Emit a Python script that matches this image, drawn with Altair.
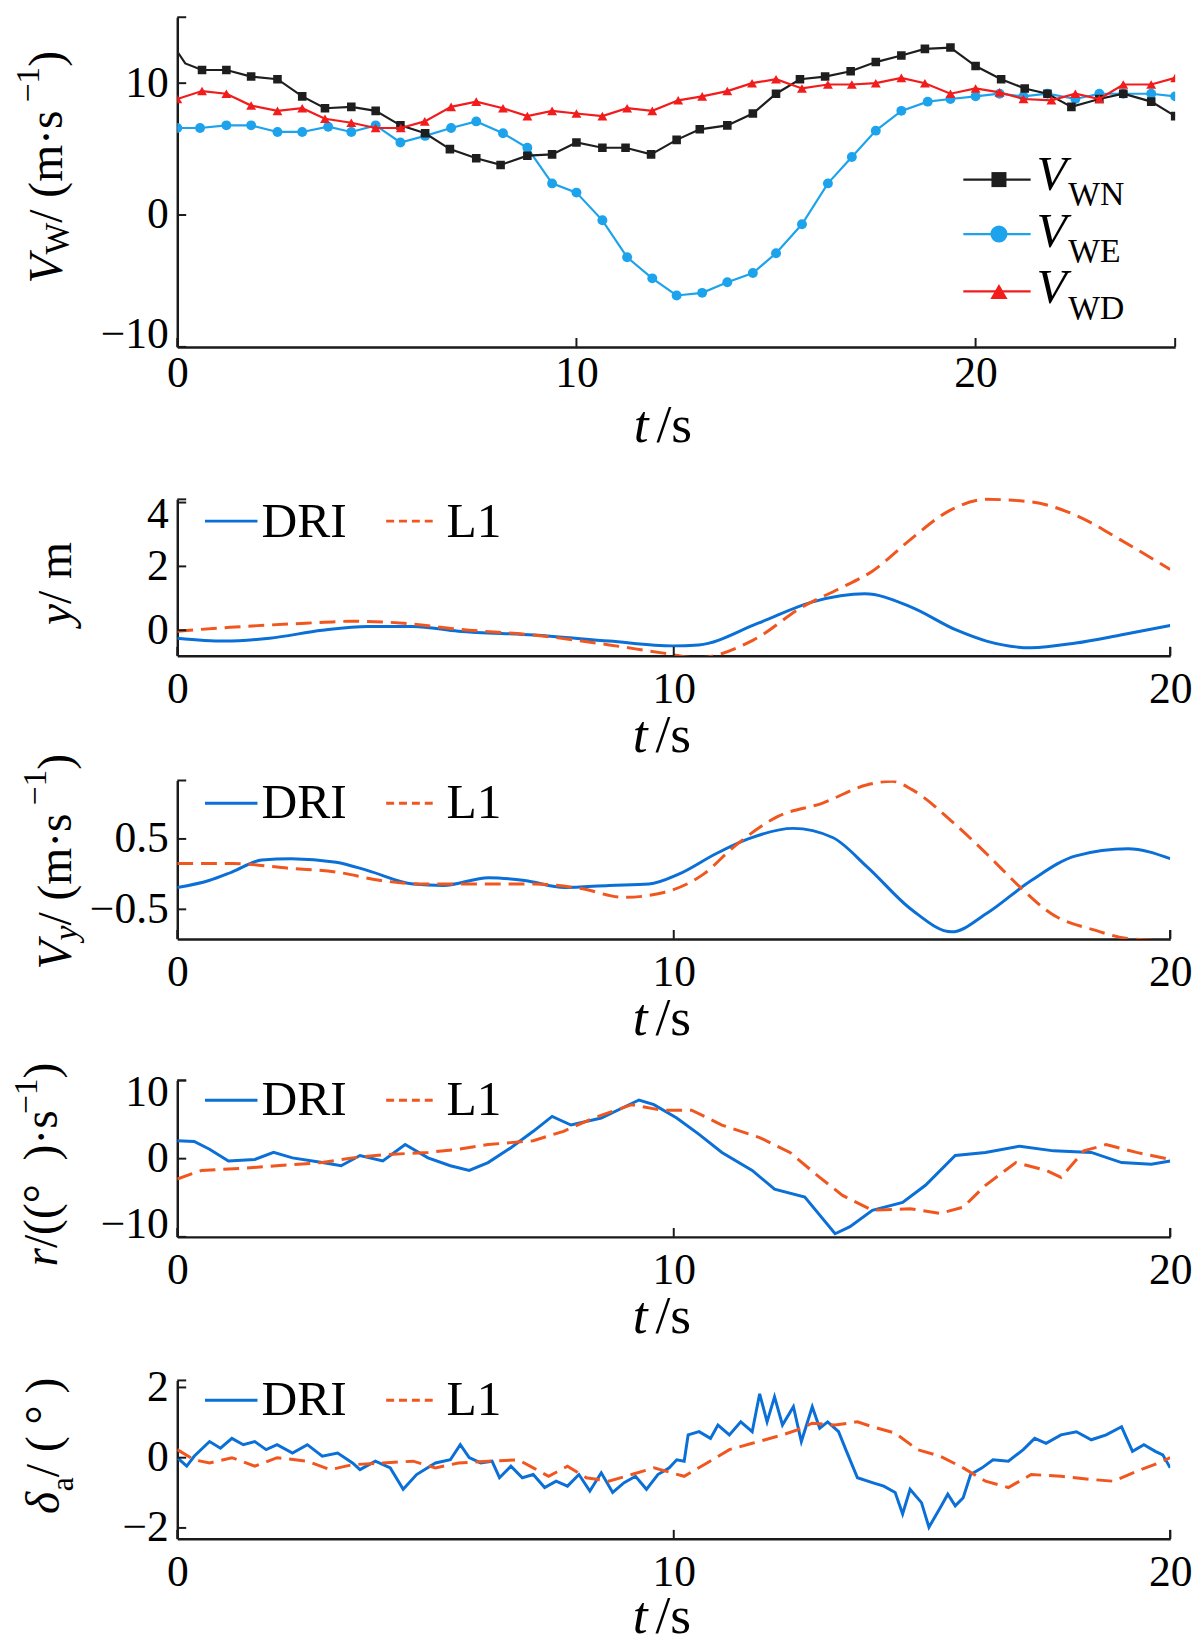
import altair as alt
import pandas as pd

FONT = "Liberation Serif"
AXC = "#1a1a1a"
C_WN, C_WE, C_WD = "#1e1e1e", "#1ca3ec", "#f21c1c"
C_DRI, C_L1 = "#0a6fd6", "#f0561e"

# ---------------- data ----------------
# Panel 1: wind components V_W (m/s) vs t (s)
t_wn = [0, 0.2, 0.62, 1.23, 1.85, 2.51, 3.13, 3.70, 4.36, 4.97, 5.59, 6.21, 6.83, 7.49, 8.10,
        8.77, 9.39, 10.0, 10.65, 11.23, 11.87, 12.51, 13.09, 13.78, 14.42, 15.0, 15.6, 16.23,
        16.87, 17.5, 18.14, 18.73, 19.37, 20.0, 20.64, 21.23, 21.8, 22.4, 23.1, 23.7, 24.4, 25.0]
v_wn = [12.4, 11.5, 11.0, 11.0, 10.5, 10.3, 9.0, 8.1, 8.2, 7.9, 6.8, 6.2, 5.0, 4.3, 3.8,
        4.5, 4.6, 5.5, 5.1, 5.1, 4.6, 5.7, 6.5, 6.8, 7.7, 9.2, 10.3, 10.5,
        10.9, 11.6, 12.1, 12.6, 12.7, 11.3, 10.3, 9.6, 9.2, 8.2, 8.8, 9.2, 8.6, 7.5]
t_we = [0, 0.57, 1.23, 1.85, 2.51, 3.13, 3.78, 4.36, 4.97, 5.59, 6.21, 6.86, 7.49, 8.16, 8.77,
        9.39, 10.0, 10.65, 11.27, 11.9, 12.51, 13.15, 13.78, 14.42, 15.0, 15.65, 16.3, 16.9,
        17.5, 18.14, 18.8, 19.37, 20.0, 20.6, 21.2, 21.8, 22.5, 23.1, 23.7, 24.4, 25.0]
v_we = [6.6, 6.6, 6.8, 6.8, 6.3, 6.3, 6.7, 6.3, 6.8, 5.5, 6.0, 6.6, 7.1, 6.2, 5.1,
        2.4, 1.7, -0.4, -3.2, -4.8, -6.1, -5.9, -5.1, -4.4, -2.9, -0.7, 2.4, 4.4,
        6.4, 7.9, 8.6, 8.8, 9.0, 9.2, 9.0, 9.2, 8.8, 9.2, 9.2, 9.2, 9.0]
t_wd = [0, 0.62, 1.23, 1.85, 2.51, 3.13, 3.7, 4.36, 4.97, 5.6, 6.2, 6.86, 7.49, 8.16, 8.77,
        9.39, 10.0, 10.65, 11.27, 11.9, 12.55, 13.15, 13.78, 14.4, 15.0, 15.65, 16.3, 16.9,
        17.5, 18.14, 18.73, 19.37, 20.0, 20.6, 21.2, 21.9, 22.5, 23.1, 23.7, 24.4, 25.0]
v_wd = [8.8, 9.4, 9.2, 8.3, 7.9, 8.1, 7.3, 7.0, 6.6, 6.6, 7.1, 8.2, 8.6, 8.1, 7.5,
        7.9, 7.7, 7.5, 8.1, 7.9, 8.7, 9.0, 9.4, 10.0, 10.3, 9.6, 9.9, 9.9,
        10.0, 10.4, 10.0, 9.2, 9.6, 9.3, 8.8, 8.7, 9.2, 8.8, 9.9, 9.9, 10.4]

# Panel 2: lateral offset y (m)
t_y_dri = [0, 0.95, 1.86, 2.92, 3.84, 4.75, 5.66, 7.18, 8.7, 9.98, 10.5, 11.7, 12.8, 13.85,
           14.76, 15.7, 16.3, 17.2, 18.1, 19.0, 20]
y_dri = [-0.25, -0.34, -0.25, 0.0, 0.12, 0.12, -0.03, -0.15, -0.34, -0.49, -0.46, 0.22, 0.89,
         1.14, 0.74, 0.0, -0.34, -0.55, -0.40, -0.15, 0.15]
t_y_l1 = [0, 1.06, 2.58, 3.5, 4.56, 5.66, 7.18, 8.7, 9.76, 10.5, 11.6, 12.6, 13.4, 14.0,
          14.76, 15.5, 16.3, 17.2, 18.1, 19.0, 20]
y_l1 = [-0.03, 0.09, 0.22, 0.28, 0.22, 0.03, -0.15, -0.46, -0.71, -0.86, -0.31, 0.74, 1.35,
        1.85, 2.83, 3.7, 4.1, 4.02, 3.6, 2.83, 1.9]

# Panel 3: lateral velocity V_y (m/s)
t_vy_dri = [0, 0.64, 1.1, 1.7, 2.3, 3.2, 3.84, 4.75, 5.36, 6.27, 7.0, 7.8, 8.7, 9.5, 10.1,
            10.85, 11.5, 12.4, 13.2, 13.9, 14.8, 15.6, 16.3, 17.2, 18.1, 19.15, 20]
vy_dri = [-0.19, -0.09, 0.03, 0.2, 0.22, 0.17, 0.05, -0.14, -0.16, -0.05, -0.09, -0.19, -0.16,
          -0.14, 0.0, 0.29, 0.5, 0.65, 0.52, 0.1, -0.51, -0.82, -0.56, -0.09, 0.26, 0.36, 0.22]
t_vy_l1 = [0, 1.1, 2.3, 3.2, 4.1, 5.0, 6.27, 7.2, 8.1, 9.0, 9.8, 10.6, 11.2, 12.1, 13.0, 13.9,
           14.4, 14.8, 15.6, 16.3, 17.0, 17.6, 18.5, 19.1, 20]
vy_l1 = [0.15, 0.15, 0.08, 0.03, -0.09, -0.14, -0.14, -0.14, -0.2, -0.33, -0.26, 0.0, 0.38,
         0.82, 1.01, 1.27, 1.32, 1.2, 0.75, 0.29, -0.2, -0.56, -0.8, -0.91, -0.95]

# Panel 4: yaw rate r (deg/s)
t_r_dri = [0, 0.34, 0.65, 1.03, 1.56, 1.94, 2.32, 2.92, 3.30, 3.68, 4.14, 4.59, 5.05, 5.50,
           5.88, 6.26, 6.72, 7.17, 7.55, 7.93, 8.54, 9.30, 9.60, 10.06, 10.51, 10.97, 11.58,
           12.03, 12.64, 13.25, 13.55, 14.0, 14.61, 15.07, 15.67, 16.28, 16.97, 17.65, 18.41,
           19.02, 19.62, 20.0]
r_dri = [2.3, 2.2, 1.2, -0.3, -0.1, 0.8, 0.1, -0.5, -0.9, 0.4, -0.3, 1.8, 0.1, -0.9,
         -1.5, -0.5, 1.4, 3.5, 5.4, 4.3, 5.2, 7.5, 6.9, 5.2, 3.1, 0.8, -1.5,
         -3.9, -4.9, -9.6, -8.7, -6.6, -5.6, -3.4, 0.4, 0.8, 1.6, 1.0, 0.8,
         -0.5, -0.7, -0.3]
t_r_l1 = [0, 0.49, 1.4, 2.0, 2.92, 3.53, 4.14, 5.05, 5.66, 6.26, 7.17, 7.78, 8.39, 9.15,
          9.75, 10.36, 10.97, 11.73, 12.34, 12.94, 13.4, 14.0, 14.76, 15.37, 15.83, 16.28,
          16.89, 17.5, 17.8, 18.26, 18.71, 19.32, 20.0]
r_l1 = [-2.6, -1.5, -1.2, -0.9, -0.5, 0.1, 0.5, 0.8, 1.2, 1.8, 2.3, 3.5, 5.2, 6.9,
        6.2, 6.2, 4.3, 2.7, 0.8, -2.4, -4.7, -6.6, -6.4, -7.0, -6.2, -3.4,
        -0.5, -1.5, -2.4, 1.0, 1.8, 0.8, -0.1]

# Panel 5: aileron deflection delta_a (deg)
t_da_dri = [0.0, 0.19, 0.34, 0.65, 0.87, 1.10, 1.33, 1.56, 1.79, 2.01, 2.32, 2.62, 2.92, 3.23,
            3.53, 3.68, 3.99, 4.29, 4.55, 4.82, 5.20, 5.50, 5.70, 5.88, 6.11, 6.34, 6.49, 6.72,
            6.95, 7.17, 7.40, 7.63, 7.86, 8.09, 8.31, 8.54, 8.77, 9.0, 9.23, 9.45, 9.68, 9.91,
            10.06, 10.21, 10.29, 10.51, 10.74, 10.89, 11.12, 11.35, 11.58, 11.73, 11.88, 12.03,
            12.19, 12.41, 12.57, 12.79, 12.94, 13.1, 13.32, 13.48, 13.7, 14.0, 14.23, 14.46,
            14.61, 14.76, 14.99, 15.14, 15.37, 15.52, 15.67, 15.83, 15.98, 16.21, 16.43, 16.74,
            17.04, 17.27, 17.5, 17.8, 18.11, 18.41, 18.71, 19.02, 19.24, 19.47, 19.7, 19.85, 20.0]
da_dri = [0.0, -0.24, 0.04, 0.46, 0.27, 0.55, 0.37, 0.46, 0.23, 0.37, 0.13, 0.37, 0.04, 0.13,
          -0.15, -0.34, -0.1, -0.29, -0.9, -0.48, -0.15, -0.06, 0.37, 0.0, -0.15, -0.1, -0.57,
          -0.24, -0.57, -0.48, -0.85, -0.67, -0.81, -0.48, -0.95, -0.43, -0.99, -0.71, -0.53,
          -0.9, -0.48, -0.29, -0.06, -0.1, 0.65, 0.74, 0.55, 0.93, 0.65, 1.02, 0.74, 1.82, 1.02,
          1.73, 0.93, 1.45, 0.46, 1.45, 0.84, 1.02, 0.74, 0.18, -0.57, -0.71, -0.81, -0.99,
          -1.6, -0.9, -1.28, -1.98, -1.42, -1.04, -1.37, -1.14, -0.48, -0.29, -0.06, -0.1,
          0.23, 0.55, 0.41, 0.65, 0.74, 0.51, 0.65, 0.88, 0.18, 0.37, 0.18, 0.08, -0.29]
t_da_l1 = [0.0, 0.34, 0.65, 1.10, 1.56, 2.01, 2.62, 3.08, 3.53, 4.14, 4.75, 5.20, 5.66, 6.26,
           6.87, 7.17, 7.48, 7.86, 8.24, 8.69, 9.15, 9.6, 10.21, 10.67, 11.12, 11.58, 12.19,
           12.49, 12.79, 13.25, 13.7, 14.0, 14.46, 14.91, 15.37, 15.83, 16.28, 16.74, 17.2,
           17.8, 18.41, 18.86, 19.32, 19.77, 20.0]
da_l1 = [0.23, -0.06, -0.15, 0.0, -0.24, 0.0, -0.1, -0.34, -0.2, -0.15, -0.1, -0.29, -0.15,
         -0.1, -0.06, -0.29, -0.53, -0.24, -0.57, -0.67, -0.48, -0.29, -0.53, -0.15, 0.23,
         0.41, 0.65, 0.79, 0.98, 0.93, 1.02, 0.88, 0.7, 0.23, 0.04, -0.29, -0.67, -0.85,
         -0.48, -0.53, -0.62, -0.67, -0.39, -0.15, 0.0]

# tick values
x1_ticks = [0, 10, 20]
x_ticks = [0, 10, 20]
y1_ticks = [-10, 0, 10]
y2_ticks = [0, 2, 4]
y3_ticks = [-0.5, 0.5]
y4_ticks = [-10, 0, 10]
y5_ticks = [-2, 0, 2]

# ---------------- helpers ----------------
PL = 179          # page x of plot left edge
one = pd.DataFrame({"k": [0]})

REG = {' ': 250, '(': 333, ')': 333, '/': 278, '·': 250, 'm': 778, 's': 389, '1': 500,
       '−': 564, '°': 400, 'W': 944, 'N': 722, 'E': 611, 'D': 722, 'a': 444}
ITA = {'V': 611, 'y': 444, 'r': 389, 't': 278, 'δ': 480}


def tw(s, size, italic):
    tab = ITA if italic else REG
    return sum(tab.get(c, 500) for c in s) * size / 1000.0


def txt(s, x, y, size, italic=False, angle=0, align="left", baseline="alphabetic", color="black"):
    return alt.Chart(one).mark_text(
        font=FONT, fontSize=size, fontStyle="italic" if italic else "normal",
        angle=angle, align=align, baseline=baseline, color=color
    ).encode(x=alt.value(x), y=alt.value(y), text=alt.value(s))


def rot_title(pieces, bx, by):
    out = []
    y = by
    for s, size, italic, shift in pieces:
        out.append(txt(s, bx + shift, y, size, italic, angle=270))
        y -= tw(s, size, italic)
    return out


def hseg(x1, x2, y, color, width, dash=None):
    kw = dict(color=color, strokeWidth=width)
    if dash:
        kw["strokeDash"] = dash
    return alt.Chart(one).mark_rule(**kw).encode(x=alt.value(x1), x2=alt.value(x2), y=alt.value(y))


def build(T, o, h, W, xdom, xt, ydom, yt, yfmt, xlp, series, tpieces, tbx, tby,
          legend, xtl, xtb, extra=()):
    H = h + o
    rx = lambda v: v - PL
    ry = lambda v: v - T + o
    X = alt.X("t:Q", scale=alt.Scale(domain=xdom, nice=False, zero=False),
              axis=alt.Axis(values=xt, ticks=False, tickSize=0, grid=False, title=None,
                            labelFont=FONT, labelFontSize=44, labelColor="black",
                            labelPadding=xlp, labelFlush=False, domainColor=AXC,
                            domainWidth=2.5, format="d"))
    Y = alt.Y("v:Q", scale=alt.Scale(domain=ydom, nice=False, zero=False, range=[H, o]),
              axis=alt.Axis(values=yt, ticks=False, tickSize=0, grid=False, title=None,
                            labelFont=FONT, labelFontSize=44, labelColor="black",
                            labelPadding=9, labelFlush=5, labelFlushOffset=10,
                            domainColor=AXC, domainWidth=2.5, format=yfmt))
    layers = []
    for s in series:
        layers += s(X, Y)
    # inward ticks
    layers.append(alt.Chart(pd.DataFrame({"t": xt})).mark_rule(color=AXC, strokeWidth=2)
                  .encode(x=X, y=alt.value(H), y2=alt.value(H - 9)))
    layers.append(alt.Chart(pd.DataFrame({"v": yt})).mark_rule(color=AXC, strokeWidth=2)
                  .encode(y=Y, x=alt.value(0), x2=alt.value(9)))
    # end stubs
    layers.append(hseg(0, 9, o, AXC, 2))
    layers.append(alt.Chart(one).mark_rule(color=AXC, strokeWidth=2)
                  .encode(x=alt.value(W), y=alt.value(H), y2=alt.value(H - 9)))
    # legend
    layers += legend(rx, ry)
    # y title
    layers += rot_title(tpieces, rx(tbx), ry(tby))
    # x title  t/s
    x0 = rx(xtl)
    y0 = ry(xtb)
    layers.append(txt("t", x0, y0, 54, True))
    layers.append(txt("/s", x0 + 23, y0, 54))
    layers += list(extra)
    return alt.layer(*layers).properties(width=W, height=H)


def wind(t, v, color, shape, msize, skip=0):
    def f(X, Y):
        df = pd.DataFrame({"t": t, "v": v})
        ln = alt.Chart(df).mark_line(color=color, strokeWidth=2.2, clip=True).encode(x=X, y=Y)
        pt = alt.Chart(df.iloc[skip:]).mark_point(shape=shape, filled=True, size=msize,
                                                 color=color, opacity=1, clip=True).encode(x=X, y=Y)
        return [ln, pt]
    return f


def curve(t, v, color, dash=None, interp="linear"):
    def f(X, Y):
        df = pd.DataFrame({"t": t, "v": v})
        kw = dict(color=color, strokeWidth=3, clip=True, interpolate=interp)
        if dash:
            kw["strokeDash"] = dash
        return [alt.Chart(df).mark_line(**kw).encode(x=X, y=Y)]
    return f


DASH = [16, 8]


def dri_l1_legend(line_y, base_y):
    def f(rx, ry):
        return [hseg(rx(207), rx(260), ry(line_y), C_DRI, 3),
                txt("DRI", rx(264), ry(base_y), 50),
                hseg(rx(390), rx(440), ry(line_y), C_L1, 3, [8, 5]),
                txt("L1", rx(451), ry(base_y), 50)]
    return f


def wind_legend(rx, ry):
    out = []
    rows = [(172, 183, 198, C_WN, "square", 230, "WN"),
            (227, 240, 255, C_WE, "circle", 300, "WE"),
            (285, 297, 313, C_WD, "triangle-up", 300, "WD")]
    for ly, vb, sb, col, shp, sz, sub in rows:
        out.append(hseg(rx(973), rx(1041), ry(ly), col, 2.2))
        out.append(alt.Chart(one).mark_point(shape=shp, filled=True, size=sz, color=col, opacity=1)
                   .encode(x=alt.value(rx(1009)), y=alt.value(ry(ly))))
        out.append(txt("V", rx(1047), ry(vb), 50, True))
        out.append(txt(sub, rx(1079), ry(sb), 34))
    return out


anchor = alt.Chart(one).mark_rule(strokeOpacity=0).encode(
    x=alt.value(8 - PL), y=alt.value(100), y2=alt.value(101))

# ---------------- panels ----------------
p1 = build(T=8, o=0, h=333, W=1008, xdom=[0, 25], xt=x1_ticks, ydom=[-10, 15], yt=y1_ticks,
           yfmt="d", xlp=5,
           series=[wind(t_we, v_we, C_WE, "circle", 100),
                   wind(t_wn, v_wn, C_WN, "square", 75, skip=2),
                   wind(t_wd, v_wd, C_WD, "triangle-up", 100)],
           tpieces=[("V", 48, True, 0), ("W", 34, False, 6), (" / (m·s", 48, False, 0),
                    ("−1", 34, False, -24), (")", 48, False, 0)],
           tbx=63, tby=277, legend=wind_legend, xtl=640, xtb=437, extra=[anchor])

p2 = build(T=495, o=28, h=158, W=1003, xdom=[0, 20], xt=x_ticks, ydom=[-0.8, 4.1], yt=y2_ticks,
           yfmt="d", xlp=12,
           series=[curve(t_y_dri, y_dri, C_DRI, interp="monotone"),
                   curve(t_y_l1, y_l1, C_L1, DASH, interp="monotone")],
           tpieces=[("y", 48, True, 0), ("  / m", 48, False, 0)],
           tbx=72, tby=622, legend=dri_l1_legend(517, 533), xtl=639, xtb=750)

p3 = build(T=779, o=0, h=160, W=1003, xdom=[0, 20], xt=x_ticks, ydom=[-0.92, 1.33], yt=y3_ticks,
           yfmt=".1f", xlp=12,
           series=[curve(t_vy_dri, vy_dri, C_DRI, interp="monotone"),
                   curve(t_vy_l1, vy_l1, C_L1, DASH, interp="monotone")],
           tpieces=[("V", 48, True, 0), ("y", 34, True, 6), (" / (m·s", 48, False, 0),
                    ("−1", 34, False, -26), (")", 48, False, 0)],
           tbx=72, tby=970, legend=dri_l1_legend(802, 817), xtl=639, xtb=1036)

p4 = build(T=1082, o=17, h=158, W=1003, xdom=[0, 20], xt=x_ticks, ydom=[-10, 10], yt=y4_ticks,
           yfmt="d", xlp=12,
           series=[curve(t_r_dri, r_dri, C_DRI),
                   curve(t_r_l1, r_l1, C_L1, DASH)],
           tpieces=[("r", 48, True, 0), ("/((", 48, False, 0), (" ° ", 48, False, 0),
                    (")·s", 48, False, 0), ("−1", 34, False, -20), (")", 48, False, 0)],
           tbx=57, tby=1270, legend=dri_l1_legend(1102, 1117), xtl=639, xtb=1337)

p5 = build(T=1385, o=19, h=160, W=1003, xdom=[0, 20], xt=x_ticks, ydom=[-2.31, 2.2], yt=y5_ticks,
           yfmt="d", xlp=12,
           series=[curve(t_da_dri, da_dri, C_DRI),
                   curve(t_da_l1, da_l1, C_L1, DASH)],
           tpieces=[("δ", 48, True, 0), ("a", 32, False, 14), ("/ ( ° )", 48, False, 0)],
           tbx=60, tby=1520, legend=dri_l1_legend(1405, 1420), xtl=639, xtb=1640)

chart = alt.vconcat(p1, p2, p3, p4, p5, spacing=126, bounds="flush").properties(
    padding=0, background="white"
).configure_view(stroke=None).configure_axis(grid=False)

chart.save("out.html", embed_options={"renderer": "svg", "actions": False})
